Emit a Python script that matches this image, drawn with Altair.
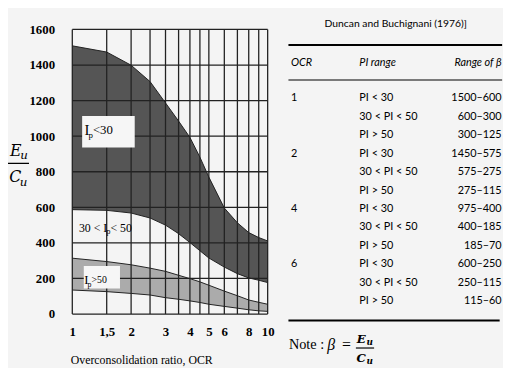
import altair as alt
import pandas as pd

# ---------------- data ----------------
ocr = [1, 1.5, 2, 2.5, 3, 3.5, 4, 4.5, 5, 6, 7, 8, 9, 10]
pi30_top = [1508, 1473, 1399, 1307, 1187, 1085, 993, 882, 770, 596, 513, 458, 430, 411]
pi30_bot = [587, 583, 568, 540, 500, 452, 402, 356, 315, 264, 227, 203, 190, 177]
pi50_top = [314, 295, 277, 258, 240, 218, 199, 181, 162, 129, 103, 79, 66, 55]
pi50_bot = [135, 126, 116, 107, 92, 83, 74, 65, 55, 43, 33, 24, 18, 15]

grid_x = [1, 1.5, 2, 2.5, 3, 3.5, 4, 4.5, 5, 6, 7, 8, 9, 10]
grid_y = [0, 200, 400, 600, 800, 1000, 1200, 1400, 1600]
x_ticks = [1, 1.5, 2, 3, 4, 5, 6, 8, 10]
y_ticks = [0, 200, 400, 600, 800, 1000, 1200, 1400, 1600]

# label boxes (data coords)
box_x1 = [1.123, 1.145]
box_x2 = [2.087, 1.754]
box_y1 = [936, 144]
box_y2 = [1113, 270]

table_ocr = ["1", "", "", "2", "", "", "4", "", "", "6", "", ""]
table_pi = ["PI < 30", "30 < PI < 50", "PI > 50"] * 4
table_range = ["1500–600", "600–300", "300–125",
               "1450–575", "575–275", "275–115",
               "975–400", "400–185", "185–70",
               "600–250", "250–115", "115–60"]

BG = "#f4f4f4"
SERIF = "Liberation Serif"
SANS = "Lato"

bands = pd.DataFrame({"ocr": ocr, "t30": pi30_top, "b30": pi30_bot,
                      "t50": pi50_top, "b50": pi50_bot})

xs = alt.Scale(type="log", domain=[1, 10], nice=False)
ys = alt.Scale(domain=[0, 1600], nice=False)

x_axis = alt.Axis(values=x_ticks, labelExpr="replace(toString(datum.value), '.', ',')",
                  ticks=False, domain=False, grid=False, labelFlush=False, labelOverlap=False,
                  labelFont=SERIF, labelFontWeight="bold", labelFontSize=13, labelColor="black",
                  labelPadding=12,
                  title="Overconsolidation ratio, OCR", titleFont=SERIF, titleFontWeight="normal",
                  titleFontSize=12, titleColor="black", titleX=70, titleY=46,
                  titleAlign="center", titleBaseline="middle")
y_axis = alt.Axis(values=y_ticks, format="d", ticks=False, domain=False, grid=False,
                  labelFlush=False, labelOverlap=False,
                  labelFont=SERIF, labelFontWeight="bold", labelFontSize=13, labelColor="black",
                  labelPadding=18, title=None)


def X(field):
    return alt.X(field, scale=xs, axis=x_axis)


def Y(field):
    return alt.Y(field, scale=ys, axis=y_axis)


base = alt.Chart(bands)

area30 = base.mark_area(color="#555555").encode(x=X("ocr:Q"), y=Y("t30:Q"), y2="b30:Q")
area50 = base.mark_area(color="#ababab").encode(x=X("ocr:Q"), y=Y("t50:Q"), y2="b50:Q")

edges = []
for f in ["t30", "b30", "t50", "b50"]:
    edges.append(base.mark_line(color="#222222", strokeWidth=1).encode(
        x=X("ocr:Q"), y=Y(f + ":Q")))

vgrid = alt.Chart(pd.DataFrame({"gx": grid_x})).mark_rule(color="#222222", strokeWidth=1.3).encode(
    x=X("gx:Q"))
hgrid = alt.Chart(pd.DataFrame({"gy": grid_y})).mark_rule(color="#222222", strokeWidth=1.3).encode(
    y=Y("gy:Q"))

boxes = alt.Chart(pd.DataFrame({"x1": box_x1, "x2": box_x2, "y1": box_y1, "y2": box_y2})).mark_rect(
    color="#f6f6f6").encode(x=X("x1:Q"), x2="x2:Q", y=Y("y1:Q"), y2="y2:Q")


def label(xv, yv, txt, size, dx=0, dy=0):
    return alt.Chart(pd.DataFrame({"x": [xv], "y": [yv], "t": [txt]})).mark_text(
        font=SERIF, fontSize=size, align="left", baseline="middle", color="black",
        dx=dx, dy=dy).encode(x=X("x:Q"), y=Y("y:Q"), text="t:N")


labels = [
    label(1.155, 1035, "I", 15),
    label(1.155, 1035, "p", 9, dx=4, dy=5),
    label(1.155, 1035, "<30", 13, dx=8.5),
    label(1.081, 486, "30 < I", 12),
    label(1.081, 486, "p", 8, dx=28, dy=5),
    label(1.081, 486, "< 50", 12, dx=32),
    label(1.15, 192, "I", 13),
    label(1.15, 192, "p", 8, dx=3.5, dy=5),
    label(1.15, 192, ">50", 10, dx=7.5),
]


def ptext(txt, px, py, size, font=SERIF, style="normal", weight="normal", align="center"):
    return alt.Chart(pd.DataFrame({"t": [txt]})).mark_text(
        font=font, fontSize=size, fontStyle=style, fontWeight=weight, align=align,
        baseline="middle", color="black").encode(
        x=alt.value(px), y=alt.value(py), text="t:N")


def prule(px1, px2, py, w):
    return alt.Chart(pd.DataFrame({"a": [0]})).mark_rule(color="black", strokeWidth=w).encode(
        x=alt.value(px1), x2=alt.value(px2), y=alt.value(py))


# y-axis title as a fraction
ytitle = [
    ptext("E", -57.5, 123, 16, font="DejaVu Serif", style="italic"),
    ptext("u", -49, 128, 12, font="DejaVu Serif", style="italic"),
    prule(-69, -44, 136, 1.3),
    ptext("C", -58, 150, 16, font="DejaVu Serif", style="italic"),
    ptext("u", -49.5, 155, 12, font="DejaVu Serif", style="italic"),
]

plot = alt.layer(area30, area50, *edges, vgrid, hgrid, boxes, *labels, *ytitle)

# ---------------- table ----------------
tdf = pd.DataFrame({"row": list(range(len(table_pi))), "ocr": table_ocr,
                    "pi": table_pi, "rng": table_range})
rows = alt.Scale(type="point", domain=list(range(len(table_pi))), range=[70, 276], padding=0)
tbase = alt.Chart(tdf)
tcols = [
    tbase.mark_text(font=SANS, fontSize=11, align="left", baseline="middle", color="black").encode(
        x=alt.value(222), y=alt.Y("row:O", scale=rows, axis=None), text="ocr:N"),
    tbase.mark_text(font=SANS, fontSize=11, align="left", baseline="middle", color="black").encode(
        x=alt.value(291.5), y=alt.Y("row:O", scale=rows, axis=None), text="pi:N"),
    tbase.mark_text(font=SANS, fontSize=11, align="right", baseline="middle", color="black").encode(
        x=alt.value(436), y=alt.Y("row:O", scale=rows, axis=None), text="rng:N"),
]
tother = [
    ptext("Duncan and Buchignani (1976)]", 328.5, -5.5, 10.5, font=SANS),
    prule(219.5, 436.5, 15.7, 2),
    ptext("OCR", 222, 34, 11, font=SANS, style="italic", align="left"),
    ptext("PI range", 291.5, 34, 11, font=SANS, style="italic", align="left"),
    ptext("Range of β", 436, 34, 11, font=SANS, style="italic", align="right"),
    prule(219.5, 436.5, 51.3, 1.2),
    prule(219.5, 434, 295.5, 2),
    ptext("Note :", 220, 321, 14.5, font=SERIF, align="left"),
    ptext("β", 263, 321, 16, font=SERIF, style="italic"),
    ptext("=", 278.5, 321, 16, font=SERIF),
    ptext("E", 293.5, 314, 12, font="DejaVu Serif", style="italic", weight="bold"),
    ptext("u", 302, 317, 9, font="DejaVu Serif", style="italic", weight="bold"),
    prule(288, 306.5, 323.5, 1.2),
    ptext("C", 293.5, 334, 12, font="DejaVu Serif", style="italic", weight="bold"),
    ptext("u", 302, 337, 9, font="DejaVu Serif", style="italic", weight="bold"),
]
table = alt.layer(*tcols, *tother)

chart = alt.layer(plot, table).resolve_scale(y="independent", x="independent").properties(
    width=198.4, height=289,
    padding={"left": 65.3, "top": 19, "right": 239, "bottom": 52},
    autosize=alt.AutoSizeParams(type="none"),
    background=BG,
).configure_view(stroke=None)

chart.save("out.html", embed_options={"renderer": "svg", "actions": False})
